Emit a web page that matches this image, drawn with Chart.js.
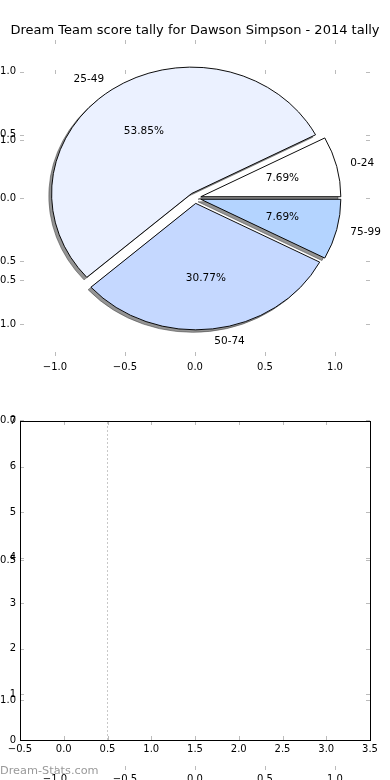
<!DOCTYPE html>
<html>
<head>
<meta charset="utf-8">
<script src="https://cdn.jsdelivr.net/npm/chart.js@4.4.1/dist/chart.umd.min.js"></script>
<style>
  html, body { margin: 0; padding: 0; background: #fff; }
  #wrap { position: relative; width: 390px; height: 780px; overflow: hidden; }
  #wrap canvas { position: absolute; left: 0; top: 0; }
</style>
</head>
<body>
<div id="wrap">
  <canvas id="ghost" width="390" height="780"></canvas>
  <canvas id="pieAxes" width="390" height="780"></canvas>
  <canvas id="pie" width="390" height="780"></canvas>
  <canvas id="bars" width="390" height="780"></canvas>
</div>
<script>
// data
const chartTitle = "Dream Team score tally for Dawson Simpson - 2014 tally";
const scoreRanges = ["0-24", "25-49", "50-74", "75-99"];
const gameCounts = [1, 7, 4, 1];
const sliceColors = ["#ffffff", "#ebf1ff", "#c5d8ff", "#b4d4ff"];
const pieTicks = [-1.0, -0.5, 0.0, 0.5, 1.0];
const barXTicks = [-0.5, 0.0, 0.5, 1.0, 1.5, 2.0, 2.5, 3.0, 3.5];
const barYTicks = [0, 1, 2, 3, 4, 5, 6, 7];
const barValues = [0, 0, 0, 0];
const markerX = 0.5;

Chart.defaults.font.family = "'DejaVu Sans', sans-serif";
Chart.defaults.font.size = 10;
Chart.defaults.color = "#000";
Chart.defaults.animation = false;

const fmt1 = v => (v < 0 ? "\u2212" : "") + Math.abs(v).toFixed(1);
const fmt0 = v => String(v);

function axis(tickValues, min, max, fit, fmt, pad) {
  return {
    type: "linear",
    min: min,
    max: max,
    bounds: "data",
    offset: false,
    grid: { display: false, drawTicks: false },
    border: { display: false },
    ticks: { padding: pad, autoSkip: false, maxRotation: 0, callback: fmt },
    afterBuildTicks: s => { s.ticks = tickValues.map(v => ({ value: v })); },
    afterFit: s => {
      if (s.isHorizontal()) s.height = fit; else s.width = fit;
    }
  };
}

// small grey tick marks pointing into the axes on all four sides
const innerTicks = {
  id: "innerTicks",
  afterDraw(chart) {
    const { ctx, chartArea: a, scales } = chart;
    const len = 4;
    ctx.save();
    ctx.strokeStyle = "#bbbbbb";
    ctx.lineWidth = 1;
    ctx.beginPath();
    scales.x.ticks.forEach(t => {
      const px = Math.round(scales.x.getPixelForValue(t.value)) + 0.5;
      ctx.moveTo(px, a.top); ctx.lineTo(px, a.top + len);
      ctx.moveTo(px, a.bottom); ctx.lineTo(px, a.bottom - len);
    });
    scales.y.ticks.forEach(t => {
      const py = Math.round(scales.y.getPixelForValue(t.value)) + 0.5;
      ctx.moveTo(a.left, py); ctx.lineTo(a.left + len, py);
      ctx.moveTo(a.right, py); ctx.lineTo(a.right - len, py);
    });
    ctx.stroke();
    ctx.restore();
  }
};

// leftover axes (empty pie axes stretched over the figure)
new Chart(document.getElementById("ghost"), {
  type: "scatter",
  data: { datasets: [] },
  options: {
    responsive: false,
    layout: { padding: { top: 70, right: 20, left: 0, bottom: 0 } },
    plugins: { legend: { display: false }, tooltip: { enabled: false } },
    scales: {
      x: axis(pieTicks, -1.25, 1.25, 10, fmt1, 3),
      y: axis(pieTicks, -1.25, 1.25, 20, fmt1, 4)
    }
  },
  plugins: [innerTicks]
});

// axes behind the pie
new Chart(document.getElementById("pieAxes"), {
  type: "scatter",
  data: { datasets: [] },
  options: {
    responsive: false,
    layout: { padding: { top: 40, right: 20, left: 0, bottom: 0 } },
    plugins: { legend: { display: false }, tooltip: { enabled: false } },
    scales: {
      x: axis(pieTicks, -1.25, 1.25, 424, fmt1, 5),
      y: axis(pieTicks, -1.25, 1.25, 20, fmt1, 4)
    }
  },
  plugins: [innerTicks]
});

// exploded, squashed pie with drop shadows and matplotlib style labels
const pieExtras = {
  id: "pieExtras",
  afterDatasetsUpdate(chart, args, o) {
    const a = chart.chartArea;
    const cx = (a.left + a.right) / 2, cy = (a.top + a.bottom) / 2;
    chart.getDatasetMeta(0).data.forEach(arc => {
      const mid = (arc.startAngle + arc.endAngle) / 2;
      arc.x = cx + Math.cos(mid) * o.explode;
      arc.y = cy + Math.sin(mid) * o.explode;
    });
  },
  beforeDatasetsDraw(chart, args, o) {
    const { ctx, chartArea: a } = chart;
    const cx = (a.left + a.right) / 2, cy = (a.top + a.bottom) / 2;
    ctx.save();
    ctx.translate(cx, cy);
    ctx.scale(1, o.squash);
    ctx.translate(-cx, -cy);
    // shadows go under every wedge
    chart.getDatasetMeta(0).data.forEach(arc => {
      const saved = arc.options;
      arc.options = Object.assign({}, saved, { backgroundColor: o.shadow, borderColor: o.shadow });
      ctx.save();
      ctx.translate(-2.8, 2.5 / o.squash);
      arc.draw(ctx);
      ctx.restore();
      arc.options = saved;
    });
  },
  afterDatasetsDraw(chart, args, o) {
    const { ctx, chartArea: a } = chart;
    ctx.restore();
    const cx = (a.left + a.right) / 2, cy = (a.top + a.bottom) / 2;
    const ds = chart.data.datasets[0];
    const total = ds.data.reduce((s, v) => s + v, 0);
    ctx.save();
    ctx.fillStyle = "#000";
    ctx.font = "10.5px 'DejaVu Sans', sans-serif";
    ctx.textBaseline = "middle";
    chart.getDatasetMeta(0).data.forEach((arc, i) => {
      const mid = (arc.startAngle + arc.endAngle) / 2;
      const c = Math.cos(mid), s = Math.sin(mid);
      const r = arc.outerRadius;
      const at = d => [cx + c * d, cy + s * d * o.squash];
      const [lx, ly] = at(r * 1.1 + o.explode);
      ctx.textAlign = c >= 0 ? "left" : "right";
      ctx.fillText(chart.data.labels[i], lx, ly);
      const [px, py] = at(r * 0.6 + o.explode);
      ctx.textAlign = "center";
      ctx.fillText((ds.data[i] / total * 100).toFixed(2) + "%", px, py);
    });
    ctx.restore();
  }
};

// matplotlib goes counter-clockwise from 3 o'clock, Chart.js clockwise: feed it reversed
const order = scoreRanges.map((_, i) => i).reverse();
new Chart(document.getElementById("pie"), {
  type: "pie",
  data: {
    labels: order.map(i => scoreRanges[i]),
    datasets: [{
      data: order.map(i => gameCounts[i]),
      backgroundColor: order.map(i => sliceColors[i]),
      borderColor: "#000",
      borderWidth: 1
    }]
  },
  options: {
    responsive: false,
    rotation: 90,
    radius: 140,
    layout: { padding: { top: 0, left: 0, right: 0, bottom: 424 } },
    plugins: {
      legend: { display: false },
      tooltip: { enabled: false },
      title: {
        display: true,
        text: chartTitle,
        color: "#000",
        font: { size: 13, weight: "normal", lineHeight: 1.2 },
        padding: { top: 22.4, bottom: 2 }
      },
      pieExtras: { explode: 6, squash: 0.903, shadow: "rgba(60,60,60,0.55)" }
    }
  },
  plugins: [pieExtras]
});

// bar axes (empty bars) with frame and watermark
const frameAndMark = {
  id: "frameAndMark",
  afterDraw(chart) {
    const { ctx, chartArea: a } = chart;
    ctx.save();
    ctx.strokeStyle = "#000";
    ctx.lineWidth = 1;
    const l = Math.round(a.left) + 0.5, t = Math.round(a.top) + 0.5;
    ctx.strokeRect(l, t, Math.round(a.right) - Math.round(a.left), Math.round(a.bottom) - Math.round(a.top));
    ctx.fillStyle = "#999";
    ctx.font = "11.3px 'DejaVu Sans', sans-serif";
    ctx.textAlign = "left";
    ctx.textBaseline = "middle";
    ctx.fillText("Dream-Stats.com", 0, 771);
    ctx.restore();
  }
};

new Chart(document.getElementById("bars"), {
  data: {
    datasets: [
      {
        type: "bar",
        label: "games",
        data: barValues.map((v, i) => ({ x: i, y: v })),
        backgroundColor: sliceColors.slice(1).concat(sliceColors[0]),
        borderWidth: 0
      },
      {
        type: "line",
        label: "marker",
        data: [{ x: markerX, y: barYTicks[0] }, { x: markerX, y: barYTicks[barYTicks.length - 1] }],
        borderColor: "#c8c8c8",
        borderWidth: 1,
        borderDash: [2, 2],
        pointRadius: 0
      }
    ]
  },
  options: {
    responsive: false,
    layout: { padding: { top: 421, right: 20, left: 0, bottom: 0 } },
    plugins: { legend: { display: false }, tooltip: { enabled: false } },
    scales: {
      x: axis(barXTicks, -0.5, 3.5, 40, fmt1, 3),
      y: axis(barYTicks, 0, 7, 20, fmt0, 4)
    }
  },
  plugins: [innerTicks, frameAndMark]
});
</script>
</body>
</html>
